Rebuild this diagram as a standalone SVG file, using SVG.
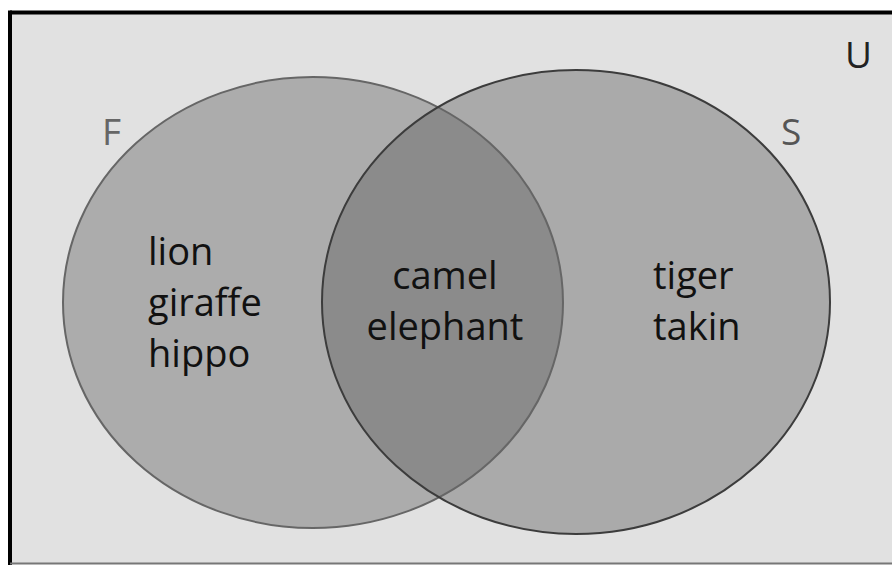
<svg xmlns="http://www.w3.org/2000/svg" width="892" height="565" viewBox="0 0 892 565">
  <style>
    .lbl { font-family: "Open Sans", "Liberation Sans", sans-serif; font-size: 38px; fill: #111; }
    .set { font-family: "Open Sans", "Liberation Sans", sans-serif; font-size: 37px; }
  </style>
  <defs>
    <clipPath id="clipF">
      <ellipse cx="313" cy="302.5" rx="250" ry="225.5"/>
    </clipPath>
  </defs>
  <rect x="0" y="0" width="892" height="565" fill="#ffffff"/>
  <rect x="10" y="12" width="882" height="551" fill="#e1e1e1"/>
  <line x1="10" y1="12.5" x2="892" y2="12.5" stroke="#000" stroke-width="4"/>
  <line x1="10" y1="10.5" x2="10" y2="565" stroke="#000" stroke-width="4"/>
  <line x1="10" y1="563.5" x2="892" y2="563.5" stroke="#777" stroke-width="2"/>

  <g id="F">
    <ellipse cx="313" cy="302.5" rx="250" ry="225.5" fill="#acacac"/>
  </g>
  <g id="S">
    <ellipse cx="576" cy="302" rx="254" ry="232" fill="#aaaaaa"/>
  </g>
  <g id="FS">
    <ellipse cx="576" cy="302" rx="254" ry="232" fill="#8b8b8b" clip-path="url(#clipF)"/>
  </g>
  <g id="outlines" fill="none">
    <ellipse cx="313" cy="302.5" rx="250" ry="225.5" stroke="#666" stroke-width="2"/>
    <ellipse cx="576" cy="302" rx="254" ry="232" stroke="#3c3c3c" stroke-width="2"/>
  </g>

  <g id="labels-sets">
    <text class="set" x="102" y="145" fill="#666">F</text>
    <text class="set" x="781" y="145" fill="#555">S</text>
    <text class="set" x="845" y="68" fill="#222">U</text>
  </g>

  <g id="F-only">
    <text class="lbl" x="148" y="265">lion</text>
    <text class="lbl" x="148" y="316">giraffe</text>
    <text class="lbl" x="148" y="367">hippo</text>
  </g>
  <g id="F-and-S">
    <text class="lbl" x="445" y="289" text-anchor="middle">camel</text>
    <text class="lbl" x="445" y="340" text-anchor="middle">elephant</text>
  </g>
  <g id="S-only">
    <text class="lbl" x="653" y="289">tiger</text>
    <text class="lbl" x="653" y="340">takin</text>
  </g>
</svg>
